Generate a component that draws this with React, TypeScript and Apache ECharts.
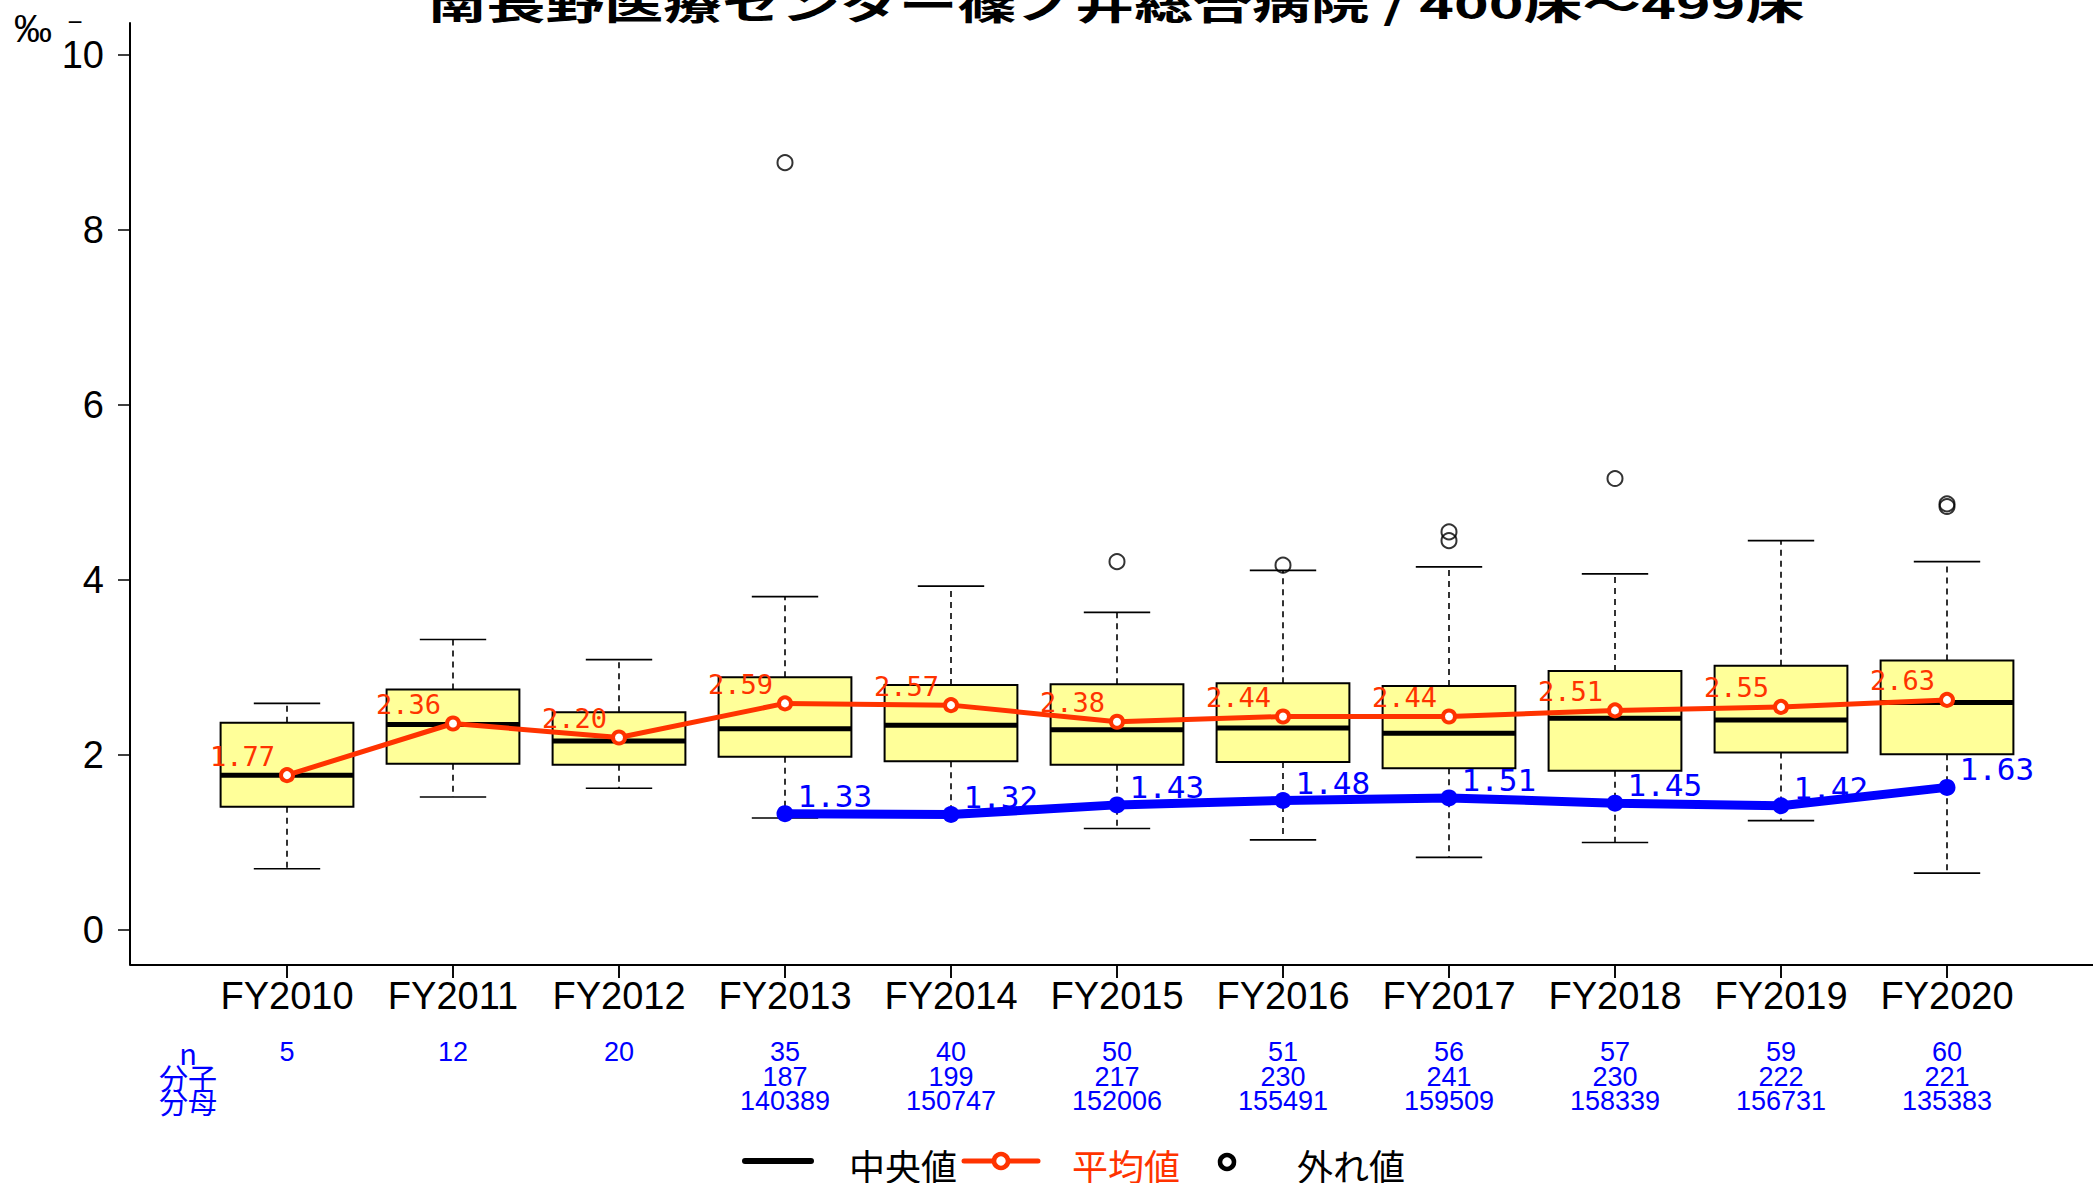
import React, { useEffect, useRef } from 'react';
import * as echarts from 'echarts';

const titleText = '南長野医療センター篠ノ井総合病院 / 400床～499床';
const categories = ['FY2010', 'FY2011', 'FY2012', 'FY2013', 'FY2014', 'FY2015', 'FY2016', 'FY2017', 'FY2018', 'FY2019', 'FY2020'];
const whiskerLow = [0.70, 1.52, 1.62, 1.28, 1.30, 1.16, 1.03, 0.83, 1.00, 1.25, 0.65];
const q1 = [1.41, 1.90, 1.89, 1.98, 1.93, 1.89, 1.92, 1.85, 1.82, 2.03, 2.01];
const median = [1.77, 2.35, 2.16, 2.30, 2.34, 2.29, 2.31, 2.25, 2.42, 2.40, 2.60];
const q3 = [2.37, 2.75, 2.49, 2.89, 2.80, 2.81, 2.82, 2.79, 2.96, 3.02, 3.08];
const whiskerHigh = [2.59, 3.32, 3.09, 3.81, 3.93, 3.63, 4.11, 4.15, 4.07, 4.45, 4.21];
const means = [1.77, 2.36, 2.20, 2.59, 2.57, 2.38, 2.44, 2.44, 2.51, 2.55, 2.63];
const hospital = [null, null, null, 1.33, 1.32, 1.43, 1.48, 1.51, 1.45, 1.42, 1.63];
const outlierYears = ['FY2013', 'FY2015', 'FY2016', 'FY2017', 'FY2017', 'FY2018', 'FY2020', 'FY2020'];
const outlierValues = [8.77, 4.21, 4.17, 4.55, 4.45, 5.16, 4.87, 4.84];
const nCounts = [5, 12, 20, 35, 40, 50, 51, 56, 57, 59, 60];
const numerators = [null, null, null, 187, 199, 217, 230, 241, 230, 222, 221];
const denominators = [null, null, null, 140389, 150747, 152006, 155491, 159509, 158339, 156731, 135383];
const yTicks = [0, 2, 4, 6, 8, 10];
const rowLabels = ['n', '分子', '分母'];
const legendLabels = ['中央値', '平均値', '外れ値'];

const RED = '#FF3300';
const BLUE = '#0000FF';
const NUM_FONT = '"Liberation Sans", Arial, sans-serif';
const MONO_FONT = '"DejaVu Sans Mono", "Liberation Mono", monospace';
const JP_FONT = '"Noto Sans CJK JP", sans-serif';

export default function App() {
  const ref = useRef<HTMLDivElement>(null);
  useEffect(() => {
    if (!ref.current) return;
    const chart = echarts.init(ref.current, null, { renderer: 'svg' });
    const boxData = categories.map((_, i) => [i, whiskerLow[i], q1[i], median[i], q3[i], whiskerHigh[i]]);
    const outlierData = outlierYears.map((y, i) => [categories.indexOf(y), outlierValues[i]]);

    const option: any = {
      animation: false,
      backgroundColor: '#ffffff',
      grid: { left: 204, right: 63, top: 23, bottom: 218, containLabel: false },
      xAxis: {
        type: 'category',
        data: categories,
        boundaryGap: true,
        axisLine: { show: true, onZero: false, lineStyle: { color: '#000', width: 2 } },
        axisTick: { show: true, inside: false, alignWithLabel: true, length: 13, lineStyle: { color: '#000', width: 1.5 } },
        splitLine: { show: false },
        axisLabel: {
          interval: 0,
          margin: 11,
          hideOverlap: false,
          formatter: (v: string, i: number) => {
            let s = `{fy|${v}}\n{sp| }\n{b|${nCounts[i]}}`;
            if (numerators[i] != null) s += `\n{b|${numerators[i]}}\n{b|${denominators[i]}}`;
            return s;
          },
          rich: {
            fy: { fontSize: 38, lineHeight: 40, color: '#000', fontFamily: NUM_FONT },
            sp: { fontSize: 10, lineHeight: 24 },
            b: { fontSize: 27, lineHeight: 24.5, color: BLUE, fontFamily: NUM_FONT },
          },
        },
      },
      yAxis: {
        type: 'value',
        min: -0.4,
        max: 10.366,
        offset: 74,
        axisLine: { show: true, lineStyle: { color: '#000', width: 2 } },
        axisTick: { show: true, length: 12, customValues: yTicks, lineStyle: { color: '#000', width: 1.5 } },
        axisLabel: { customValues: yTicks, margin: 26, fontSize: 38, color: '#000', fontFamily: NUM_FONT },
        splitLine: { show: false },
      },
      series: [
        {
          type: 'custom',
          z: 2,
          clip: false,
          data: boxData,
          encode: { x: 0, y: [1, 2, 3, 4, 5] },
          renderItem: (params: any, api: any) => {
            const i = api.value(0);
            const band = api.size([1, 0])[0];
            const bw = band * 0.8;
            const cw = band * 0.4;
            const pLo = api.coord([i, api.value(1)]);
            const pQ1 = api.coord([i, api.value(2)]);
            const pMed = api.coord([i, api.value(3)]);
            const pQ3 = api.coord([i, api.value(4)]);
            const pHi = api.coord([i, api.value(5)]);
            const x = pMed[0];
            const axisY = params.coordSys.y + params.coordSys.height;
            const dash = { stroke: '#000', lineWidth: 1.6, lineDash: [6, 5], fill: null };
            const solid = { stroke: '#000', lineWidth: 1.6, fill: null };
            return {
              type: 'group',
              children: [
                { type: 'line', shape: { x1: x, y1: axisY, x2: x, y2: axisY + 13 }, style: solid },
                { type: 'line', shape: { x1: x, y1: pQ3[1], x2: x, y2: pHi[1] }, style: dash },
                { type: 'line', shape: { x1: x, y1: pQ1[1], x2: x, y2: pLo[1] }, style: dash },
                { type: 'line', shape: { x1: x - cw / 2, y1: pHi[1], x2: x + cw / 2, y2: pHi[1] }, style: solid },
                { type: 'line', shape: { x1: x - cw / 2, y1: pLo[1], x2: x + cw / 2, y2: pLo[1] }, style: solid },
                {
                  type: 'rect',
                  shape: { x: x - bw / 2, y: pQ3[1], width: bw, height: pQ1[1] - pQ3[1] },
                  style: { fill: '#FFFF99', stroke: '#000', lineWidth: 2 },
                },
                {
                  type: 'line',
                  shape: { x1: x - bw / 2, y1: pMed[1], x2: x + bw / 2, y2: pMed[1] },
                  style: { stroke: '#000', lineWidth: 5, fill: null },
                },
              ],
            };
          },
        },
        {
          type: 'scatter',
          z: 3,
          data: outlierData,
          symbol: 'circle',
          symbolSize: 15,
          itemStyle: { color: 'rgba(255,255,255,0)', borderColor: '#000', borderWidth: 2 },
        },
        {
          type: 'line',
          z: 4,
          data: means,
          symbol: 'circle',
          symbolSize: 12,
          lineStyle: { color: RED, width: 5 },
          itemStyle: { color: '#ffffff', borderColor: RED, borderWidth: 4 },
          label: {
            show: true,
            position: 'left',
            distance: 4,
            offset: [0, -19],
            color: RED,
            fontSize: 27,
            fontFamily: MONO_FONT,
            formatter: (p: any) => Number(p.value).toFixed(2),
          },
        },
        {
          type: 'line',
          z: 5,
          data: hospital,
          symbol: 'circle',
          symbolSize: 17,
          connectNulls: false,
          lineStyle: { color: BLUE, width: 9 },
          itemStyle: { color: BLUE },
          label: {
            show: true,
            position: 'right',
            distance: 4,
            offset: [0, -18],
            color: BLUE,
            fontSize: 31,
            fontFamily: MONO_FONT,
            formatter: (p: any) => (p.value == null ? '' : Number(p.value).toFixed(2)),
          },
        },
      ],
      graphic: [
        {
          type: 'text',
          x: 1116,
          y: 3,
          scaleX: 1.55,
          style: {
            text: titleText,
            fontSize: 38,
            fontWeight: 'bold',
            fontFamily: JP_FONT,
            fill: '#000',
            align: 'center',
            verticalAlign: 'middle',
          },
        },
        {
          type: 'text',
          x: 33,
          y: 29,
          style: { text: '‰', fontSize: 38, fontFamily: NUM_FONT, fill: '#000', align: 'center', verticalAlign: 'middle' },
        },
        {
          type: 'text',
          x: 75,
          y: 22,
          style: { text: '−', fontSize: 26, fontFamily: NUM_FONT, fill: '#000', align: 'center', verticalAlign: 'middle' },
        },
        {
          type: 'line',
          shape: { x1: 130, y1: 965, x2: 2093, y2: 965 },
          style: { stroke: '#000', lineWidth: 2 },
        },
        ...rowLabels.map((t, k) => ({
          type: 'text',
          x: 188,
          y: 1052 + k * 24.5,
          style: { text: t, fontSize: 29, fontFamily: JP_FONT, fill: BLUE, align: 'center', verticalAlign: 'middle' },
        })),
        // legend
        { type: 'line', shape: { x1: 745, y1: 1161, x2: 811, y2: 1161 }, style: { stroke: '#000', lineWidth: 6, lineCap: 'round' } },
        { type: 'text', x: 849, y: 1165, style: { text: legendLabels[0], fontSize: 36, fontFamily: JP_FONT, fill: '#000', verticalAlign: 'middle' } },
        { type: 'line', shape: { x1: 964, y1: 1161, x2: 1038, y2: 1161 }, style: { stroke: RED, lineWidth: 5, lineCap: 'round' } },
        { type: 'circle', shape: { cx: 1001, cy: 1161, r: 7 }, style: { fill: '#fff', stroke: RED, lineWidth: 4.5 } },
        { type: 'text', x: 1072, y: 1165, style: { text: legendLabels[1], fontSize: 36, fontFamily: JP_FONT, fill: RED, verticalAlign: 'middle' } },
        { type: 'circle', shape: { cx: 1227, cy: 1162, r: 7 }, style: { fill: '#fff', stroke: '#000', lineWidth: 4.5 } },
        { type: 'text', x: 1297, y: 1165, style: { text: legendLabels[2], fontSize: 36, fontFamily: JP_FONT, fill: '#000', verticalAlign: 'middle' } },
      ],
    };
    chart.setOption(option);
    return () => chart.dispose();
  }, []);
  return <div ref={ref} style={{ position: 'fixed', left: 0, top: 0, width: 2093, height: 1183, background: '#fff' }} />;
}
